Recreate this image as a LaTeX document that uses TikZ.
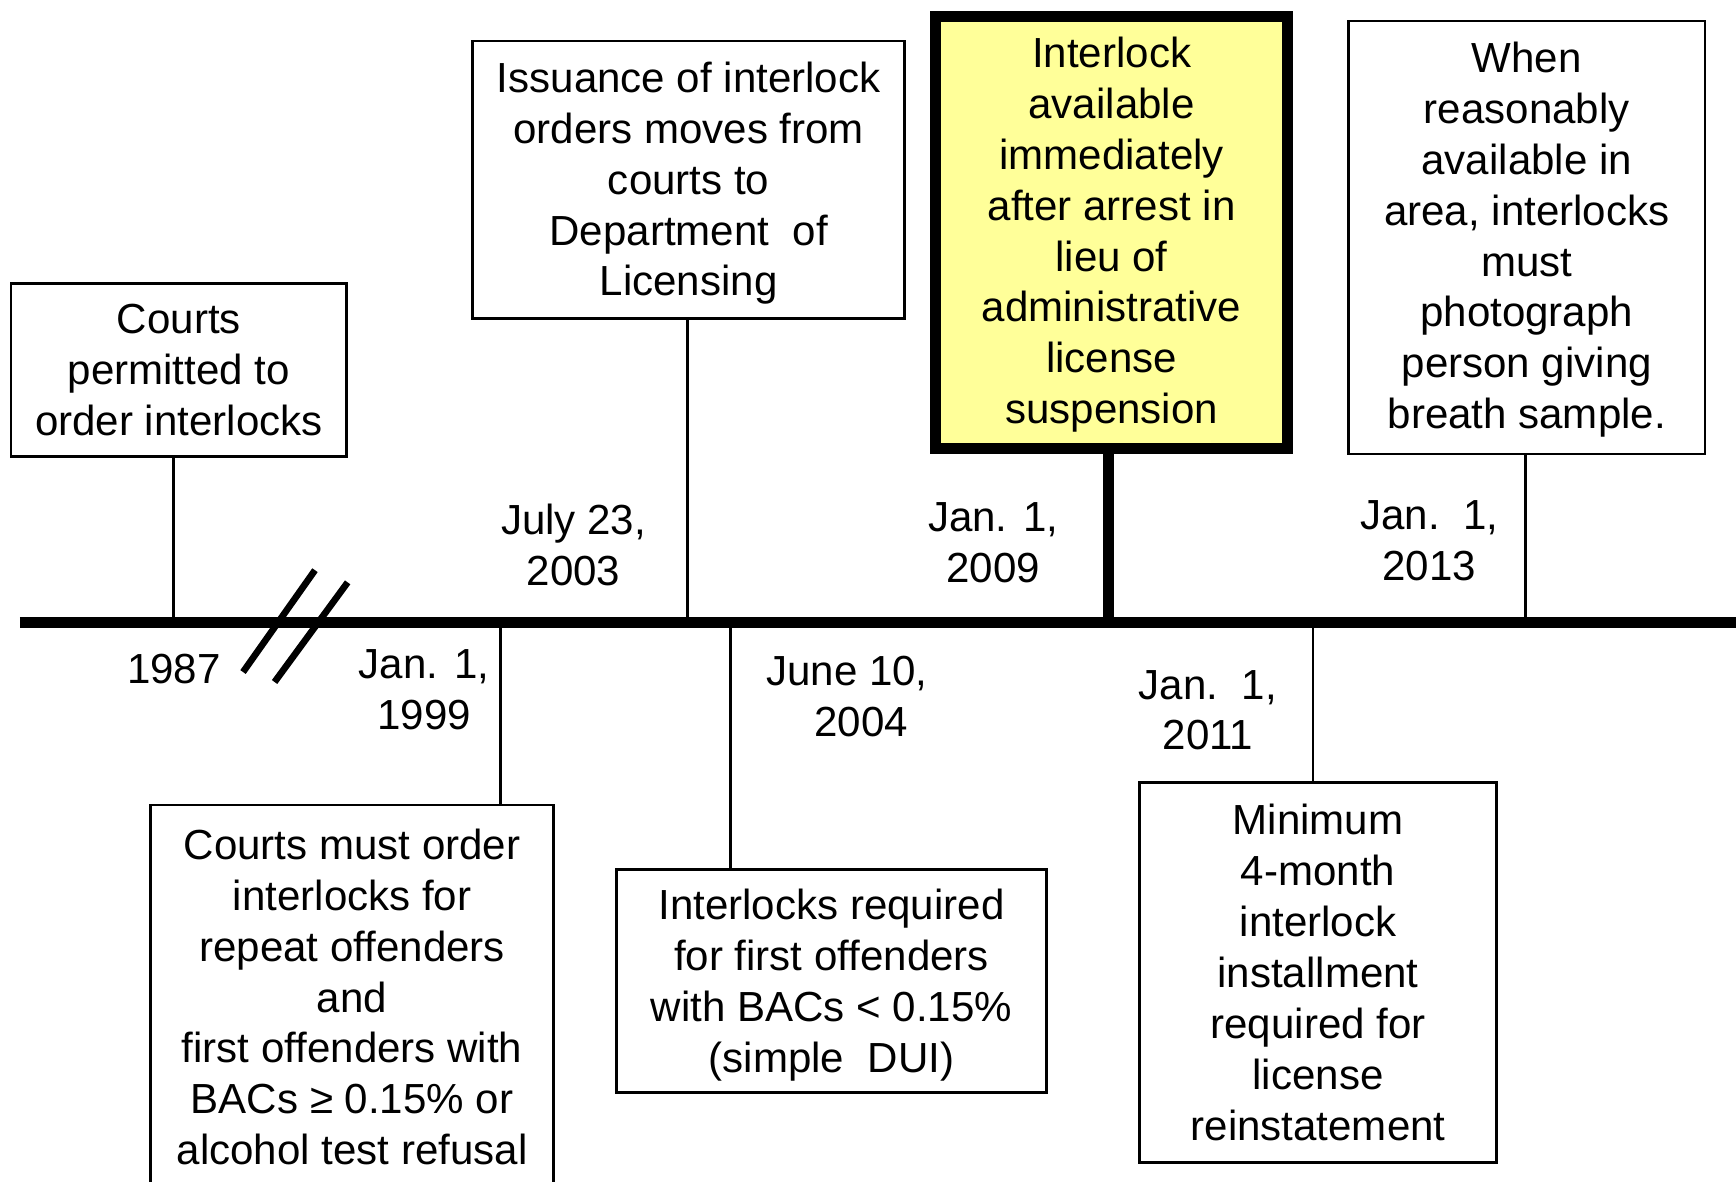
\documentclass[tikz,border=0pt]{standalone}
\usepackage{fontspec}
\setmainfont{Liberation Sans}
\definecolor{hiyellow}{RGB}{255,255,153}
\begin{document}
\begin{tikzpicture}[x=1pt,y=-1pt,
  txt/.style={font=\fontsize{38}{46}\selectfont},
  box/.style={draw=black, line width=2.5pt, fill=white, inner sep=0pt},
  hibox/.style={box, fill=hiyellow, line width=10pt},
  lbl/.style={txt, align=center, inner sep=0pt},
  conn/.style={line width=2.5pt},
  hiconn/.style={line width=10pt},
  axis/.style={line width=10pt},
  brk/.style={line width=6pt}
]
\useasboundingbox (0,0) rectangle (1568,1067.6);

% timeline
\coordinate (tl0) at (18,562);
\coordinate (tl1) at (1568,562);
\draw[axis] (tl0) -- (tl1);

% break marks
\coordinate (s1a) at (284.5,515);
\coordinate (s1b) at (219.5,607);
\coordinate (s2a) at (314,526);
\coordinate (s2b) at (248,616);
\draw[brk] (s1a) -- (s1b);
\draw[brk] (s2a) -- (s2b);

% event points on the timeline
\coordinate (t1) at (157,562);
\coordinate (t2) at (452,562);
\coordinate (t3) at (621,562);
\coordinate (t4) at (660,562);
\coordinate (t5) at (1001,562);
\coordinate (t6) at (1186,562);
\coordinate (t7) at (1378,562);

% boxes
\node[box, minimum width=303pt, minimum height=156pt] (b1) at (161.5,334) {};
\node[box, minimum width=390pt, minimum height=251pt] (b2) at (622,162.5) {};
\node[box, minimum width=364pt, minimum height=348pt] (b3) at (318,901) {};
\node[box, minimum width=388pt, minimum height=202pt] (b4) at (751,886) {};
\node[hibox, minimum width=318pt, minimum height=390pt] (b5) at (1004,210) {};
\node[box, minimum width=323pt, minimum height=343pt] (b6) at (1190.5,878.5) {};
\node[box, minimum width=322pt, minimum height=391pt] (b7) at (1379,214.5) {};

% box texts
\node[lbl] (x1) at (b1.center) {Courts\\permitted to\\order interlocks};
\node[lbl] (x2) at ([yshift=-3pt]b2.center)
  {Issuance of interlock\\orders moves from\\courts to\\Department\ \ of\\Licensing};
\node[lbl] (x3) at ([yshift=0.5pt]b3.center)
  {Courts must order\\interlocks for\\repeat offenders\\and\\first offenders with\\BACs ≥ 0.15\% or\\alcohol test refusal};
\node[lbl] (x4) at ([yshift=-3.5pt]b4.center)
  {Interlocks required\\for first offenders\\with BACs < 0.15\%\\(simple\ \ DUI)};
\node[lbl] (x5) at ([yshift=-2pt]b5.center)
  {Interlock\\available\\immediately\\after arrest in\\lieu of\\administrative\\license\\suspension};
\node[lbl] (x6) at (b6.center)
  {Minimum\\4-month\\interlock\\installment\\required for\\license\\reinstatement};
\node[lbl] (x7) at ([yshift=-2pt]b7.center)
  {When\\reasonably\\available in\\area, interlocks\\must\\photograph\\person giving\\breath sample.};

% connectors
\draw[conn] (t1) -- (t1 |- b1.south);
\draw[conn] (t2) -- (t2 |- b3.north);
\draw[conn] (t3) -- (t3 |- b2.south);
\draw[conn] (t4) -- (t4 |- b4.north);
\draw[hiconn] (t5) -- (t5 |- b5.south);
\draw[conn] (t6) -- (t6 |- b6.north);
\draw[conn] (t7) -- (t7 |- b7.south);

% date labels
\node[lbl] (l1) at (157,604) {1987};
\node[lbl] (l2) at (383,623) {Jan. 1,\\1999};
\node[lbl] (l3) at (518,492) {July 23,\\2003};
\node[lbl] (l4) at (765,629) {June 10,\\\hspace*{26pt}2004};
\node[lbl] (l5) at (897,490) {Jan. 1,\\2009};
\node[lbl] (l6) at (1091,641.5) {Jan.\ \ 1,\\2011};
\node[lbl] (l7) at (1291,488.5) {Jan.\ \ 1,\\2013};
\end{tikzpicture}
\end{document}
